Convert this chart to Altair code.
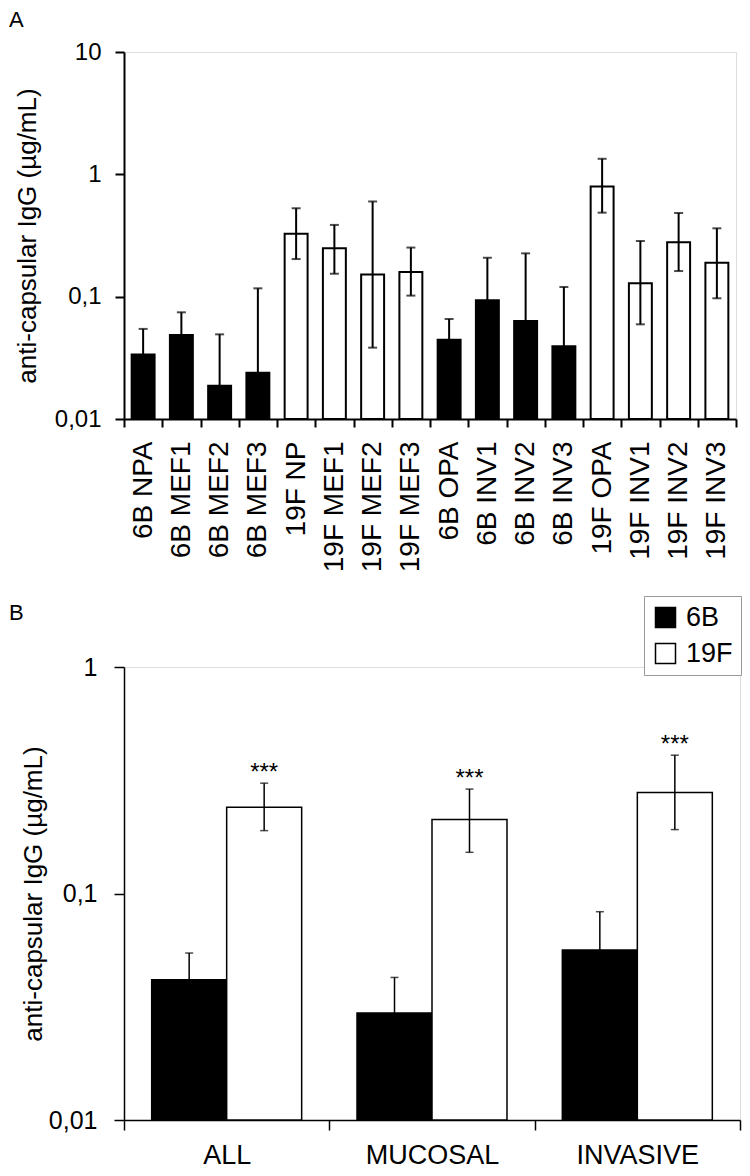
import altair as alt
import pandas as pd

FONT = "Liberation Sans, Arial, Helvetica, sans-serif"
YTITLE = "anti-capsular IgG (µg/mL)"

# ---------------- Panel A data ----------------
labels_a = ["6B NPA", "6B MEF1", "6B MEF2", "6B MEF3",
            "19F NP", "19F MEF1", "19F MEF2", "19F MEF3",
            "6B OPA", "6B INV1", "6B INV2", "6B INV3",
            "19F OPA", "19F INV1", "19F INV2", "19F INV3"]
sero_a = ["6B"] * 4 + ["19F"] * 4 + ["6B"] * 4 + ["19F"] * 4
mean_a = [0.0336, 0.0486, 0.0187, 0.0239,
          0.327, 0.249, 0.152, 0.159,
          0.0445, 0.0934, 0.0633, 0.0393,
          0.794, 0.129, 0.279, 0.189]
upper_a = [0.0545, 0.0745, 0.0492, 0.117,
           0.528, 0.386, 0.60, 0.252,
           0.0657, 0.208, 0.226, 0.120,
           1.34, 0.285, 0.483, 0.362]
# lower whiskers are only visible on the open (19F) bars
lower_a = [0.0336, 0.0486, 0.0187, 0.0239,
           0.203, 0.154, 0.0383, 0.102,
           0.0445, 0.0934, 0.0633, 0.0393,
           0.486, 0.0594, 0.162, 0.097]

# ---------------- Panel B data ----------------
groups_b = ["ALL", "MUCOSAL", "INVASIVE"]
mean_6b = [0.0416, 0.0297, 0.0563]
upper_6b = [0.0546, 0.0426, 0.0831]
mean_19f = [0.2405, 0.212, 0.279]
upper_19f = [0.307, 0.289, 0.408]
lower_19f = [0.1895, 0.152, 0.1915]
sig_19f = ["***", "***", "***"]

dfa = pd.DataFrame({"label": labels_a, "sero": sero_a, "mean": mean_a,
                    "upper": upper_a, "lower": lower_a})
dfb = pd.DataFrame({
    "group": groups_b * 2,
    "sero": ["6B"] * 3 + ["19F"] * 3,
    "mean": mean_6b + mean_19f,
    "upper": upper_6b + upper_19f,
    "lower": mean_6b + lower_19f,
    "sig": ["", "", ""] + sig_19f,
})

color_scale = alt.Scale(domain=["6B", "19F"], range=["#000000", "#ffffff"])
label_expr = "replace(toString(datum.value), '.', ',')"

# ---------------- Panel A ----------------
xa = alt.X("label:N", sort=labels_a,
           scale=alt.Scale(paddingInner=0, paddingOuter=0),
           axis=alt.Axis(title=None, labelAngle=270, tickBand="extent",
                         tickSize=8, tickWidth=2, tickColor="black",
                         domainColor="black", domainWidth=2,
                         labelPadding=14, labelFontSize=28, labelFont=FONT,
                         labelColor="black"))


def ya(field):
    return alt.Y(f"{field}:Q",
                 scale=alt.Scale(type="log", domain=[0.01, 10], nice=False),
                 axis=alt.Axis(values=[0.01, 0.1, 1, 10], labelExpr=label_expr,
                               title=YTITLE, grid=False, tickSize=9, tickWidth=2,
                               tickColor="black", domainColor="black", domainWidth=2,
                               labelPadding=14, labelFontSize=24, labelFont=FONT,
                               labelColor="black", titlePadding=14, titleFontSize=26,
                               titleFont=FONT, titleFontWeight="normal",
                               titleColor="black"))


bars_a = alt.Chart(dfa).mark_bar(stroke="black", strokeWidth=2,
                                 width=alt.RelativeBandSize(0.6)).encode(
    x=xa, y=ya("mean"), y2=alt.datum(0.01),
    color=alt.Color("sero:N", scale=color_scale, legend=None))
rule_a = alt.Chart(dfa).mark_rule(color="black", strokeWidth=2).encode(
    x=xa, y=ya("lower"), y2="upper:Q")
capu_a = alt.Chart(dfa).mark_tick(color="black", thickness=2, size=9).encode(
    x=xa, y=ya("upper"))
capl_a = alt.Chart(dfa).transform_filter("datum.lower < datum.mean").mark_tick(
    color="black", thickness=2, size=9).encode(x=xa, y=ya("lower"))
letter_a = alt.Chart(pd.DataFrame({"t": ["A"]})).mark_text(
    align="left", baseline="middle", fontSize=22, font=FONT, color="black").encode(
    x=alt.value(-115), y=alt.value(-32), text="t:N")

panel_a = alt.layer(bars_a, rule_a, capu_a, capl_a, letter_a).properties(
    width=612, height=367)

# ---------------- Panel B ----------------
xb = alt.X("group:N", sort=groups_b,
           scale=alt.Scale(paddingInner=0, paddingOuter=0),
           axis=alt.Axis(title=None, labelAngle=0, tickBand="extent",
                         tickSize=10, tickWidth=1.5, tickColor="black",
                         domainColor="black", domainWidth=1.5,
                         labelPadding=12, labelFontSize=27, labelFont=FONT,
                         labelColor="black"))
xo = alt.XOffset("sero:N", sort=["6B", "19F"],
                 scale=alt.Scale(paddingInner=0, paddingOuter=0.369))


def yb(field):
    return alt.Y(f"{field}:Q",
                 scale=alt.Scale(type="log", domain=[0.01, 1], nice=False),
                 axis=alt.Axis(values=[0.01, 0.1, 1], labelExpr=label_expr,
                               title=YTITLE, grid=False, tickSize=10, tickWidth=1.5,
                               tickColor="black", domainColor="black", domainWidth=1.5,
                               labelPadding=17, labelFontSize=25, labelFont=FONT,
                               labelColor="black", titlePadding=2, titleFontSize=26,
                               titleFont=FONT, titleFontWeight="normal",
                               titleColor="black"))


bars_b = alt.Chart(dfb).mark_bar(stroke="black", strokeWidth=1.5).encode(
    x=xb, xOffset=xo, y=yb("mean"), y2=alt.datum(0.01),
    color=alt.Color("sero:N", scale=color_scale,
                    legend=alt.Legend(title=None, orient="none", legendX=520,
                                      legendY=-71, symbolType="square",
                                      symbolSize=400, symbolStrokeColor="black",
                                      symbolStrokeWidth=1.5, symbolOpacity=1,
                                      labelFontSize=27, labelFont=FONT,
                                      labelColor="black", padding=8,
                                      rowPadding=8, labelOffset=7,
                                      strokeColor="#999999", fillColor="white")))
rule_b = alt.Chart(dfb).mark_rule(color="black", strokeWidth=1.5).encode(
    x=xb, xOffset=xo, y=yb("lower"), y2="upper:Q")
capu_b = alt.Chart(dfb).mark_tick(color="black", thickness=1.5, size=8).encode(
    x=xb, xOffset=xo, y=yb("upper"))
capl_b = alt.Chart(dfb).transform_filter("datum.lower < datum.mean").mark_tick(
    color="black", thickness=1.5, size=8).encode(x=xb, xOffset=xo, y=yb("lower"))
stars_b = alt.Chart(dfb).transform_filter("datum.sig != ''").mark_text(
    fontSize=24, font=FONT, baseline="alphabetic", dy=-3, color="black").encode(
    x=xb, xOffset=xo, y=yb("upper"), text="sig:N")
letter_b = alt.Chart(pd.DataFrame({"t": ["B"]})).mark_text(
    align="left", baseline="middle", fontSize=22, font=FONT, color="black").encode(
    x=alt.value(-115), y=alt.value(-54), text="t:N")

panel_b = alt.layer(bars_b, rule_b, capu_b, capl_b, stars_b, letter_b).properties(
    width=616, height=453)

chart = alt.vconcat(panel_a, panel_b, spacing=22).resolve_scale(
    color="independent").resolve_legend(color="independent").properties(
    padding={"left": 0, "top": 0, "right": 0, "bottom": 0}
).configure_view(stroke=None).configure(background="white")

chart.save("out.html", embed_options={"renderer": "svg", "actions": False})
